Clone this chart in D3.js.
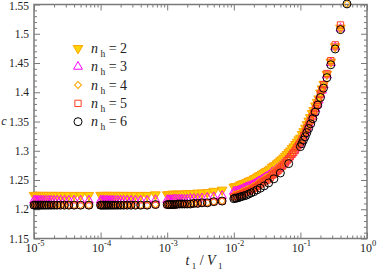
<!DOCTYPE html>
<html lang="en">
<head>
<meta charset="UTF-8">
<title>c vs t1/V1</title>
<script src="https://cdn.jsdelivr.net/npm/d3@7"></script>
<style>
    body { margin: 0; background: #fff; }
    svg text { font-family: 'Liberation Serif', 'DejaVu Serif', serif; fill: #222; }
</style>
</head>
<body>
<svg id="chart" width="377" height="274"></svg>
<script>
// sampling inside each flat decade: t = mantissa * decade
const mantissas = [1.00, 1.05, 1.11, 1.18, 1.25, 1.33, 1.43, 1.54, 1.67, 1.82, 2.00, 2.22, 2.50, 2.86, 3.33, 4.00, 5.00, 6.67];
const flatDecades = [1e-5, 1e-4, 1e-3];

// n_h = 6 sampling above 1e-2 (same mantissas for 1e-2, then these)
const upperT = [0.100, 0.105, 0.111, 0.118, 0.125, 0.133, 0.143, 0.154, 0.167, 0.182, 0.200, 0.222, 0.250, 0.286, 0.333, 0.400, 0.500];

// n_h = 2..5 sampling above 1e-2 (denser)
const tDense = [0.0100, 0.0106, 0.0112, 0.0119, 0.0126, 0.0133, 0.0141, 0.0150, 0.0158, 0.0168,
                0.0178, 0.0188, 0.0200, 0.0211, 0.0224, 0.0237, 0.0251, 0.0266, 0.0282, 0.0299,
                0.0316, 0.0335, 0.0355, 0.0376, 0.0398, 0.0422, 0.0447, 0.0473, 0.0501, 0.0531,
                0.0562, 0.0596, 0.0631, 0.0668, 0.0708, 0.0750, 0.0794, 0.0841, 0.0891, 0.0944,
                0.100, 0.106, 0.112, 0.119, 0.126, 0.133, 0.141, 0.150, 0.158, 0.168,
                0.178, 0.188, 0.200, 0.211, 0.224, 0.250, 0.286, 0.333, 0.400, 0.500];

// flat part values (3 decades x 18)
const c2Flat = [1.224, 1.224, 1.224, 1.224, 1.224, 1.224, 1.224, 1.224, 1.224, 1.224, 1.224, 1.224, 1.224, 1.224, 1.224, 1.224, 1.224, 1.224,
                1.224, 1.224, 1.224, 1.224, 1.224, 1.224, 1.224, 1.224, 1.224, 1.224, 1.224, 1.224, 1.224, 1.224, 1.224, 1.224, 1.224, 1.225,
                1.225, 1.225, 1.225, 1.226, 1.226, 1.226, 1.226, 1.226, 1.226, 1.226, 1.227, 1.227, 1.227, 1.228, 1.228, 1.229, 1.231, 1.233];
const c3Flat = [1.215, 1.215, 1.215, 1.215, 1.215, 1.215, 1.215, 1.215, 1.215, 1.215, 1.215, 1.215, 1.215, 1.215, 1.215, 1.215, 1.215, 1.215,
                1.215, 1.215, 1.215, 1.215, 1.215, 1.215, 1.215, 1.215, 1.215, 1.215, 1.215, 1.215, 1.215, 1.215, 1.215, 1.215, 1.215, 1.216,
                1.216, 1.216, 1.216, 1.216, 1.217, 1.217, 1.217, 1.217, 1.217, 1.217, 1.217, 1.218, 1.218, 1.218, 1.219, 1.220, 1.221, 1.223];
const c4Flat = [1.207, 1.207, 1.207, 1.207, 1.207, 1.207, 1.207, 1.207, 1.207, 1.207, 1.207, 1.207, 1.207, 1.207, 1.207, 1.207, 1.207, 1.207,
                1.207, 1.207, 1.207, 1.207, 1.207, 1.207, 1.207, 1.207, 1.207, 1.207, 1.207, 1.207, 1.207, 1.207, 1.207, 1.207, 1.207, 1.208,
                1.208, 1.208, 1.208, 1.208, 1.208, 1.208, 1.209, 1.209, 1.209, 1.209, 1.209, 1.209, 1.210, 1.210, 1.211, 1.211, 1.213, 1.214];
const c5Flat = [1.207, 1.207, 1.207, 1.207, 1.207, 1.207, 1.207, 1.207, 1.207, 1.207, 1.207, 1.207, 1.207, 1.207, 1.207, 1.207, 1.207, 1.207,
                1.207, 1.207, 1.207, 1.207, 1.207, 1.207, 1.207, 1.207, 1.207, 1.207, 1.207, 1.207, 1.207, 1.207, 1.207, 1.207, 1.207, 1.208,
                1.208, 1.208, 1.208, 1.208, 1.208, 1.208, 1.209, 1.209, 1.209, 1.209, 1.209, 1.209, 1.210, 1.210, 1.211, 1.211, 1.213, 1.214];
const c6Flat = [1.207, 1.207, 1.207, 1.207, 1.207, 1.207, 1.207, 1.207, 1.207, 1.207, 1.207, 1.207, 1.207, 1.207, 1.207, 1.207, 1.207, 1.207,
                1.207, 1.207, 1.207, 1.207, 1.207, 1.207, 1.207, 1.207, 1.207, 1.207, 1.207, 1.207, 1.207, 1.207, 1.207, 1.207, 1.207, 1.208,
                1.208, 1.208, 1.208, 1.208, 1.208, 1.208, 1.209, 1.209, 1.209, 1.209, 1.209, 1.209, 1.210, 1.210, 1.211, 1.211, 1.213, 1.214];

// rising part, on tDense (null = no point)
const c2Rise = [1.238, 1.239, 1.239, 1.240, 1.242, 1.243, 1.244, 1.245, 1.246, 1.248,
                1.249, 1.250, 1.252, 1.253, 1.255, 1.257, 1.258, 1.260, 1.262, 1.264,
                1.265, 1.267, 1.269, 1.272, 1.274, 1.275, 1.278, 1.280, 1.283, 1.285,
                1.288, 1.291, 1.294, 1.297, 1.300, 1.304, 1.307, 1.311, 1.315, 1.319,
                1.322, 1.328, 1.333, 1.339, 1.345, 1.351, 1.357, 1.364, 1.369, 1.377,
                1.383, 1.389, 1.399, 1.406, 1.414, 1.431, 1.452, 1.478, 1.510, null];
const c3Rise = [1.230, 1.231, 1.231, 1.232, 1.233, 1.234, 1.236, 1.237, 1.238, 1.239,
                1.240, 1.241, 1.243, 1.244, 1.246, 1.248, 1.249, 1.251, 1.253, 1.255,
                1.256, 1.258, 1.260, 1.263, 1.264, 1.266, 1.269, 1.271, 1.274, 1.277,
                1.280, 1.282, 1.286, 1.289, 1.293, 1.296, 1.300, 1.304, 1.309, 1.312,
                1.316, 1.322, 1.327, 1.333, 1.340, 1.346, 1.352, 1.359, 1.365, 1.372,
                1.379, 1.386, 1.396, 1.403, 1.412, 1.429, 1.450, 1.477, 1.509, null];
const c4Rise = [1.224, 1.225, 1.226, 1.227, 1.228, 1.230, 1.231, 1.232, 1.234, 1.235,
                1.236, 1.238, 1.240, 1.241, 1.243, 1.246, 1.247, 1.249, 1.251, 1.254,
                1.255, 1.257, 1.259, 1.262, 1.265, 1.267, 1.270, 1.272, 1.275, 1.278,
                1.281, 1.283, 1.287, 1.290, 1.294, 1.297, 1.301, 1.305, 1.309, 1.313,
                1.317, 1.322, 1.328, 1.334, 1.340, 1.346, 1.353, 1.360, 1.365, 1.373,
                1.380, 1.386, 1.397, 1.404, 1.412, 1.429, 1.450, 1.477, 1.509, 1.551];
const c5Rise = [1.221, 1.222, 1.222, 1.224, 1.225, 1.226, 1.227, 1.229, 1.230, 1.231,
                1.232, 1.234, 1.236, 1.237, 1.239, 1.241, 1.243, 1.245, 1.247, 1.249,
                1.250, 1.252, 1.254, 1.258, 1.260, 1.262, 1.265, 1.267, 1.270, 1.273,
                1.276, 1.279, 1.283, 1.286, 1.290, 1.294, 1.297, 1.301, 1.306, 1.310,
                1.314, 1.320, 1.326, 1.332, 1.339, 1.344, 1.351, 1.358, 1.364, 1.372,
                1.379, 1.386, 1.397, 1.404, 1.413, 1.432, 1.454, 1.481, 1.515, null];
// n_h = 6 rising part, on mantissas*1e-2 followed by upperT
const c6Rise = [1.218, 1.219, 1.219, 1.220, 1.221, 1.222, 1.223, 1.224, 1.226, 1.228,
                1.230, 1.233, 1.236, 1.240, 1.245, 1.252, 1.262, 1.278,
                1.307, 1.312, 1.318, 1.324, 1.331, 1.338, 1.346, 1.355, 1.366, 1.378,
                1.391, 1.407, 1.425, 1.447, 1.474, 1.507, 1.551];

const nhLabels = ['2', '3', '4', '5', '6'];
const xTickExp = ['-5', '-4', '-3', '-2', '-1', '0'];
const yTicks = [1.15, 1.2, 1.25, 1.3, 1.35, 1.4, 1.45, 1.5, 1.55];

const svg = d3.select('#chart');
const plotL = 34, plotR = 367, plotT = 4.5, plotB = 238.5;

const x = d3.scaleLog().domain([1e-5, 1]).range([plotL, plotR]);
const y = d3.scaleLinear().domain([1.15, 1.55]).range([plotB, plotT]);

const tFlat = [];
flatDecades.forEach(d => mantissas.forEach(m => tFlat.push(m * d)));
const tSparse = mantissas.map(m => m * 0.01).concat(upperT);

function pts(ts, cs) {
    return ts.map((t, i) => ({ t: t, c: cs[i] })).filter(p => p.c != null);
}

const axisColor = '#7a7a7a';

// ticks
const xMajor = xTickExp.map(e => Math.pow(10, +e));
const xMinor = [];
xMajor.slice(0, -1).forEach(d => { for (let m = 2; m <= 9; m++) xMinor.push(m * d); });
const yMinor = [];
for (let i = 0; i < 40; i++) {
    if (i % 5 !== 0) yMinor.push(1.15 + i * 0.01);
}

function styleAxis(g) {
    g.select('.domain').remove();
    g.selectAll('line').attr('stroke', axisColor).attr('stroke-width', 1);
    g.selectAll('text').remove();
}

const axes = svg.append('g');
axes.append('g').attr('transform', `translate(0,${plotB})`)
    .call(d3.axisBottom(x).tickValues(xMajor).tickSize(-6)).call(styleAxis);
axes.append('g').attr('transform', `translate(0,${plotB})`)
    .call(d3.axisBottom(x).tickValues(xMinor).tickSize(-3)).call(styleAxis);
axes.append('g').attr('transform', `translate(0,${plotT})`)
    .call(d3.axisTop(x).tickValues(xMajor).tickSize(-6)).call(styleAxis);
axes.append('g').attr('transform', `translate(0,${plotT})`)
    .call(d3.axisTop(x).tickValues(xMinor).tickSize(-3)).call(styleAxis);
axes.append('g').attr('transform', `translate(${plotL},0)`)
    .call(d3.axisLeft(y).tickValues(yTicks).tickSize(-6)).call(styleAxis);
axes.append('g').attr('transform', `translate(${plotL},0)`)
    .call(d3.axisLeft(y).tickValues(yMinor).tickSize(-3)).call(styleAxis);
axes.append('g').attr('transform', `translate(${plotR},0)`)
    .call(d3.axisRight(y).tickValues(yTicks).tickSize(-6)).call(styleAxis);
axes.append('g').attr('transform', `translate(${plotR},0)`)
    .call(d3.axisRight(y).tickValues(yMinor).tickSize(-3)).call(styleAxis);

axes.append('rect')
    .attr('x', plotL).attr('y', plotT)
    .attr('width', plotR - plotL).attr('height', plotB - plotT)
    .attr('fill', 'none').attr('stroke', axisColor).attr('stroke-width', 1.5);

// tick labels
svg.append('g').selectAll('text')
    .data(yTicks).enter().append('text')
    .attr('x', plotL - 5).attr('y', d => Math.max(y(d) + 4, 10))
    .attr('text-anchor', 'end').attr('font-size', 11.5)
    .text(d => String(+d.toFixed(2)));

const xl = svg.append('g').selectAll('text')
    .data(xTickExp).enter().append('text')
    .attr('x', d => x(Math.pow(10, +d)) + 1).attr('y', 252)
    .attr('text-anchor', 'middle').attr('font-size', 12);
xl.append('tspan').text('10');
xl.append('tspan').attr('dy', -6).attr('font-size', 8.5).text(d => d);

// axis titles
const xt = svg.append('text').attr('x', 204).attr('y', 265)
    .attr('text-anchor', 'middle').attr('font-size', 14);
xt.append('tspan').attr('font-style', 'italic').text('t');
xt.append('tspan').attr('dy', 4).attr('font-size', 9).text(' 1');
xt.append('tspan').attr('dy', -4).text(' / ');
xt.append('tspan').attr('font-style', 'italic').text('V');
xt.append('tspan').attr('dy', 4).attr('font-size', 9).text(' 1');

svg.append('text')
    .attr('x', 4).attr('y', 125)
    .attr('text-anchor', 'middle').attr('font-size', 12).attr('font-style', 'italic')
    .text('c');

// series styles
const sym = (type, size) => d3.symbol().type(type).size(size)();
const styles = [
    { path: sym(d3.symbolTriangle, 40), rot: 180, fill: '#ffd400', stroke: '#ffa500' },
    { path: sym(d3.symbolTriangle, 34), rot: 0, fill: 'none', stroke: '#ff00ff' },
    { path: sym(d3.symbolSquare, 24), rot: 45, fill: 'none', stroke: '#ffa500' },
    { path: sym(d3.symbolSquare, 40), rot: 0, fill: 'none', stroke: '#ff4020' },
    { circle: 4, fill: 'none', stroke: '#000' }
];

const data = [
    pts(tFlat, c2Flat).concat(pts(tDense, c2Rise)),
    pts(tFlat, c3Flat).concat(pts(tDense, c3Rise)),
    pts(tFlat, c4Flat).concat(pts(tDense, c4Rise)),
    pts(tFlat, c5Flat).concat(pts(tDense, c5Rise)),
    pts(tFlat, c6Flat).concat(pts(tSparse, c6Rise))
];

function drawMarker(sel, st) {
    if (st.circle) {
        sel.append('circle').attr('r', st.circle)
            .attr('fill', st.fill).attr('stroke', st.stroke).attr('stroke-width', 1);
    } else {
        sel.append('path').attr('d', st.path)
            .attr('transform', `rotate(${st.rot})`)
            .attr('fill', st.fill).attr('stroke', st.stroke).attr('stroke-width', 1);
    }
}

const plot = svg.append('g');
data.forEach((ser, k) => {
    plot.append('g').selectAll('g')
        .data(ser).enter().append('g')
        .attr('transform', d => `translate(${x(d.t)},${y(d.c)})`)
        .each(function() { drawMarker(d3.select(this), styles[k]); });
});

// legend
const legend = svg.append('g');
nhLabels.forEach((lab, k) => {
    const cy = 48.3 + k * 18.35;
    const g = legend.append('g').attr('transform', `translate(78,${cy})`);
    drawMarker(g, styles[k]);
    const t = legend.append('text').attr('x', 91).attr('y', cy + 4.5).attr('font-size', 14);
    t.append('tspan').attr('font-style', 'italic').text('n');
    t.append('tspan').attr('dy', 4).attr('font-size', 9.5).text(' h');
    t.append('tspan').attr('dy', -4).text(' = ' + lab);
});
</script>
</body>
</html>
